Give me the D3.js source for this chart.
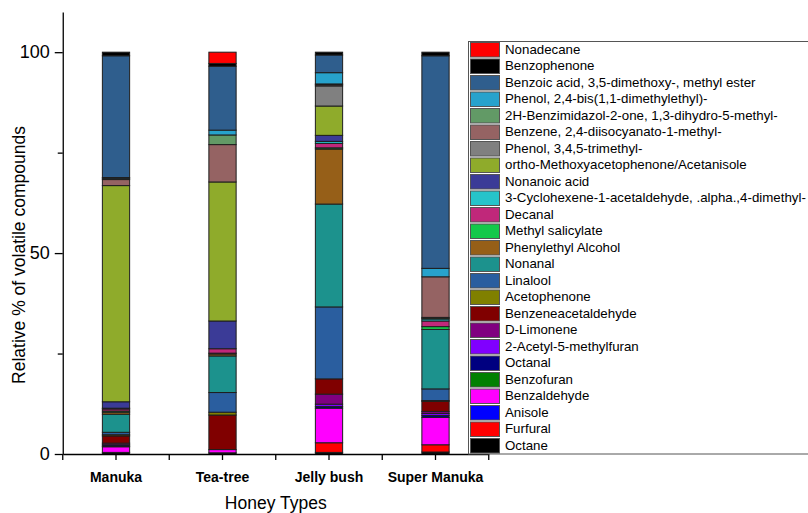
<!DOCTYPE html>
<html>
<head>
<meta charset="utf-8">
<script src="https://cdn.jsdelivr.net/npm/d3@7"></script>
<style>
  html, body { margin: 0; padding: 0; background: #fff; }
  svg { display: block; font-family: "Liberation Sans", Arial, sans-serif; }
</style>
</head>
<body>
<svg id="chart" width="808" height="513"></svg>
<script>
// Honey types along the x axis
const honeyTypes = ["Manuka", "Tea-tree", "Jelly bush", "Super Manuka"];

// Volatile compounds in stacking order (bottom of each bar first)
const compounds = [
  "Octane",
  "Furfural",
  "Anisole",
  "Benzaldehyde",
  "Benzofuran",
  "Octanal",
  "2-Acetyl-5-methylfuran",
  "D-Limonene",
  "Benzeneacetaldehyde",
  "Acetophenone",
  "Linalool",
  "Nonanal",
  "Phenylethyl Alcohol",
  "Methyl salicylate",
  "Decanal",
  "3-Cyclohexene-1-acetaldehyde, .alpha.,4-dimethyl-",
  "Nonanoic acid",
  "ortho-Methoxyacetophenone/Acetanisole",
  "Phenol, 3,4,5-trimethyl-",
  "Benzene, 2,4-diisocyanato-1-methyl-",
  "2H-Benzimidazol-2-one, 1,3-dihydro-5-methyl-",
  "Phenol, 2,4-bis(1,1-dimethylethyl)-",
  "Benzoic acid, 3,5-dimethoxy-, methyl ester",
  "Benzophenone",
  "Nonadecane"
];

const compoundColors = [
  "#000000", "#ff0000", "#0000ff", "#ff00ff", "#008000",
  "#000080", "#8000ff", "#800080", "#800000", "#808000",
  "#2a5e9f", "#1c928d", "#965f18", "#14c84a", "#c0287a",
  "#26c3ca", "#3b3b97", "#8fab2b", "#808080", "#956363",
  "#629a66", "#27a2cc", "#2f5e8d", "#000000", "#ff0000"
];

// Relative % of each compound, same order as `compounds`
const manuka      = [0.4, 0, 0, 1.4, 0.2, 0.3, 0, 0.4, 1.8, 0.3, 0.6, 4.5, 0.5, 0.3, 0.5, 0.2, 1.6, 53.8, 0, 1.5, 0.3, 0.2, 30.3, 0.9, 0];
const teaTree     = [0.3, 0, 0, 0.8, 0, 0, 0, 0, 8.6, 0.7, 4.9, 9.1, 0.5, 0.2, 1.1, 0, 6.9, 34.6, 0, 9.3, 2.4, 1.2, 15.9, 0.7, 2.8];
const jellyBush   = [0.4, 2.4, 0, 8.6, 0, 0.4, 0.6, 2.5, 3.8, 0, 17.9, 25.6, 13.7, 0.3, 1.1, 0.5, 1.5, 7.3, 5.0, 0.3, 0.2, 2.8, 4.4, 0.7, 0];
const superManuka = [0.5, 1.8, 0, 6.8, 0, 0.5, 0.5, 0.5, 2.5, 0.2, 2.9, 14.8, 0, 0.7, 1.4, 0.5, 0.2, 0.2, 0, 10.1, 0, 2.1, 52.9, 0.9, 0];

const yMajorTicks = [0, 50, 100];
const yMinorTicks = [25, 75];

// ---- build table for the stack layout ----
const seriesByHoney = [manuka, teaTree, jellyBush, superManuka];
const table = honeyTypes.map((h, i) => {
  const row = { honey: h };
  compounds.forEach((c, j) => { row[c] = seriesByHoney[i][j]; });
  return row;
});
const stacked = d3.stack().keys(compounds)(table);
const color = d3.scaleOrdinal().domain(compounds).range(compoundColors);

const svg = d3.select("#chart");
const margin = { left: 62.75, right: 488.75, top: 12, bottom: 454 };

const x = d3.scaleBand().domain(honeyTypes).range([margin.left, margin.right]).padding(0);
const y = d3.scaleLinear().domain([0, 110]).range([margin.bottom, margin.top]);
const barW = x.bandwidth() * 0.256;

// ---- stacked bars ----
const layers = svg.append("g").attr("class", "bars");
stacked.forEach(layer => {
  layers.append("g")
    .attr("fill", color(layer.key))
    .selectAll("rect")
    .data(layer.filter(d => d[1] - d[0] > 0))
    .join("rect")
    .attr("x", d => x(d.data.honey) + x.bandwidth() / 2 - barW / 2)
    .attr("width", barW)
    .attr("y", d => y(d[1]))
    .attr("height", d => y(d[0]) - y(d[1]))
    .attr("stroke", "#1e1e1e")
    .attr("stroke-width", 1);
});

// ---- y axis ----
const yAxis = svg.append("g")
  .attr("transform", `translate(${margin.left},0)`)
  .call(d3.axisLeft(y).tickValues(yMajorTicks).tickSize(8).tickSizeOuter(0).tickPadding(5));
yAxis.selectAll("text").attr("font-size", 18).attr("fill", "#000").attr("font-family", "Liberation Sans, Arial, sans-serif");
yAxis.selectAll("line, path").attr("stroke", "#000").attr("stroke-width", 1.3);

const yMinor = svg.append("g")
  .attr("transform", `translate(${margin.left},0)`)
  .call(d3.axisLeft(y).tickValues(yMinorTicks).tickSize(5).tickFormat(""));
yMinor.select("path").remove();
yMinor.selectAll("line").attr("stroke", "#000").attr("stroke-width", 1.3);

// ---- x axis ----
const xAxis = svg.append("g")
  .attr("transform", `translate(0,${margin.bottom})`)
  .call(d3.axisBottom(x).tickSize(6).tickSizeOuter(0).tickPadding(12));
xAxis.selectAll("text")
  .attr("font-size", 14).attr("font-weight", "bold").attr("fill", "#000")
  .attr("font-family", "Liberation Sans, Arial, sans-serif");
xAxis.selectAll("line, path").attr("stroke", "#000").attr("stroke-width", 1.3);

// minor ticks at band boundaries
const edges = honeyTypes.map(h => x(h)).concat([x(honeyTypes[honeyTypes.length - 1]) + x.step()]);
svg.append("g").selectAll("line").data(edges).join("line")
  .attr("x1", d => d).attr("x2", d => d)
  .attr("y1", margin.bottom).attr("y2", margin.bottom + 6)
  .attr("stroke", "#000").attr("stroke-width", 1.3);

// ---- axis titles ----
svg.append("text")
  .attr("transform", `translate(25,${(margin.top + margin.bottom) / 2 + 22}) rotate(-90)`)
  .attr("text-anchor", "middle")
  .attr("font-size", 17.5)
  .text("Relative % of volatile compounds");

svg.append("text")
  .attr("x", (margin.left + margin.right) / 2)
  .attr("y", 509)
  .attr("text-anchor", "middle")
  .attr("font-size", 17.5)
  .text("Honey Types");

// ---- legend (top entry = top of stack) ----
const legend = svg.append("g").attr("transform", "translate(468,41)");
const rowH = 16.5;
legend.append("rect")
  .attr("x", 0.5).attr("y", 0.5)
  .attr("width", 400).attr("height", rowH * compounds.length)
  .attr("fill", "#fff").attr("stroke", "#555").attr("stroke-width", 1);

const legendItems = compounds.slice().reverse();
const rows = legend.selectAll("g.item").data(legendItems).join("g")
  .attr("class", "item")
  .attr("transform", (d, i) => `translate(0,${i * rowH})`);
rows.append("rect")
  .attr("x", 2.5).attr("y", 1.5)
  .attr("width", 29).attr("height", rowH - 2)
  .attr("fill", d => color(d))
  .attr("stroke", "#555").attr("stroke-width", 1);
rows.append("text")
  .attr("x", 37).attr("y", rowH / 2 + 1)
  .attr("dominant-baseline", "middle")
  .attr("font-size", 13.3)
  .text(d => d);
</script>
</body>
</html>
